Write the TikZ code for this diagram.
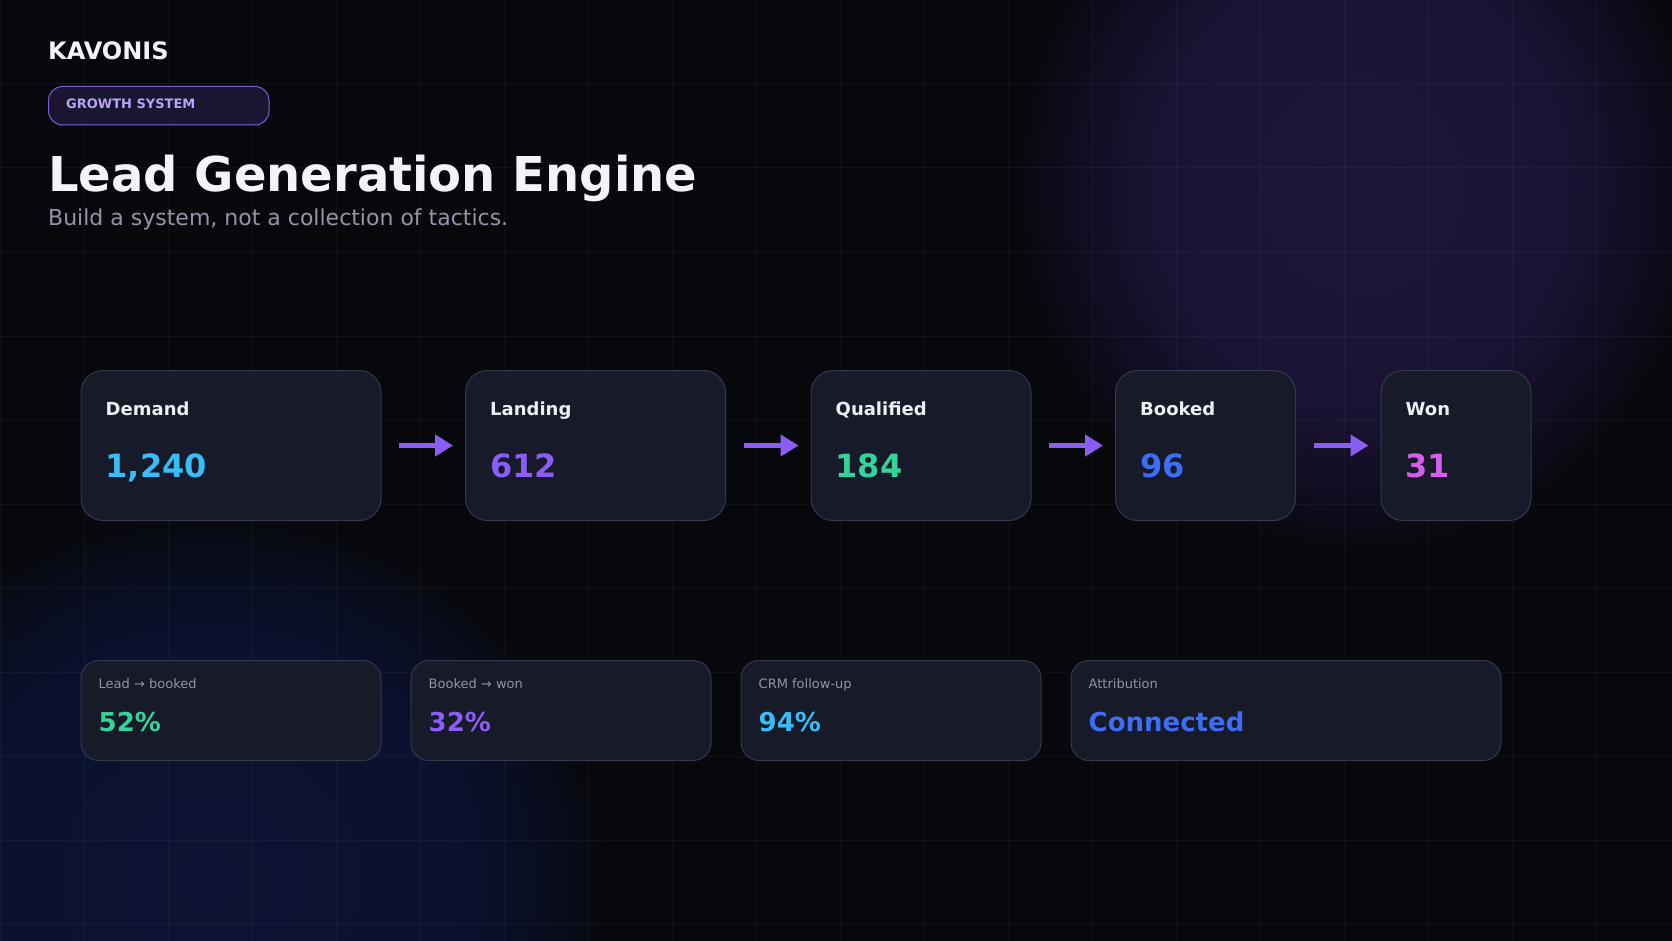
\documentclass[tikz,border=0pt]{standalone}
\usepackage{fontspec}
\setmainfont{DejaVu Sans}
\usetikzlibrary{arrows.meta}
\definecolor{bgc}{HTML}{07080C}
\definecolor{pg1}{HTML}{1D1639}
\definecolor{pg2}{HTML}{1A1333}
\definecolor{pg3}{HTML}{100C20}
\definecolor{bg1}{HTML}{0C1334}
\definecolor{bg2}{HTML}{0B1130}
\definecolor{bg3}{HTML}{090D1F}
\definecolor{boxfill}{HTML}{161A29}
\definecolor{boxline}{HTML}{33384A}
\definecolor{pillfill}{HTML}{1A1530}
\definecolor{pillline}{HTML}{7B5CE0}
\definecolor{pilltext}{HTML}{B7A4F7}
\definecolor{titlec}{HTML}{F4F4F8}
\definecolor{subc}{HTML}{9496A8}
\definecolor{labelc}{HTML}{EEF0F6}
\definecolor{mlabelc}{HTML}{8F93A6}
\definecolor{arrowc}{HTML}{8B5CF6}
\definecolor{skyc}{HTML}{38BDF8}
\definecolor{violetc}{HTML}{8B5CF6}
\definecolor{greenc}{HTML}{34D399}
\definecolor{bluec}{HTML}{3D6DF2}
\definecolor{magc}{HTML}{D65DED}
\pgfdeclareradialshading{pglow}{\pgfpoint{0bp}{0bp}}{color(0bp)=(pg1); color(15bp)=(pg2); color(21bp)=(pg3); color(25bp)=(bgc); color(50bp)=(bgc)}
\pgfdeclareradialshading{bglow}{\pgfpoint{0bp}{0bp}}{color(0bp)=(bg1); color(15bp)=(bg2); color(21bp)=(bg3); color(25bp)=(bgc); color(50bp)=(bgc)}
\begin{document}
\begin{tikzpicture}[x=1pt,y=-1pt,
  stagebox/.style={draw=boxline, fill=boxfill, rounded corners=22pt, line width=1pt, minimum height=150pt, anchor=north west, inner sep=0pt},
  metricbox/.style={draw=boxline, fill=boxfill, rounded corners=18pt, line width=1pt, minimum height=100pt, anchor=north west, inner sep=0pt},
  pillbox/.style={draw=pillline, fill=pillfill, rounded corners=14pt, line width=1pt, minimum height=38.5pt, minimum width=220.5pt, anchor=north west, inner sep=0pt},
  stagelabel/.style={anchor=base west, inner sep=0pt, text=labelc, font=\fontsize{18pt}{22pt}\selectfont\bfseries},
  stagenum/.style={anchor=base west, inner sep=0pt, font=\fontsize{32pt}{38pt}\selectfont\bfseries},
  metlabel/.style={anchor=base west, inner sep=0pt, text=mlabelc, font=\fontsize{13pt}{16pt}\selectfont},
  metval/.style={anchor=base west, inner sep=0pt, font=\fontsize{26pt}{30pt}\selectfont\bfseries},
  flow/.style={draw=arrowc, line width=4.5pt, -{Triangle[length=18pt,width=21pt]}},
  gridline/.style={draw=white, draw opacity=0.04, line width=1pt},
  plaintext/.style={anchor=base west, inner sep=0pt}
]
\useasboundingbox (0,0) rectangle (1672,941);
\begin{scope}
  \clip (0,0) rectangle (1672,941);
  \fill[bgc] (0,0) rectangle (1672,941);
  \shade[shading=pglow] (1360,185) ellipse [x radius=345, y radius=370];
  \shade[shading=bglow] (210,880) ellipse [x radius=400, y radius=370];
  \foreach \i in {0,84,...,1596} \draw[gridline] (\i,0) -- (\i,941);
  \foreach \j in {0,84,...,924} \draw[gridline] (0,\j) -- (1672,\j);
\end{scope}

% header
\node[plaintext, text=titlec, font=\fontsize{24pt}{28pt}\selectfont\bfseries] (brand) at (48,60) {KAVONIS};
\node[pillbox] (pill) at (48,86) {};
\node[plaintext, text=pilltext, font=\fontsize{13pt}{16pt}\selectfont\bfseries] (pilltxt) at (66,108.3) {GROWTH SYSTEM};
\node[plaintext, text=titlec, font=\fontsize{48pt}{54pt}\selectfont\bfseries] (title) at (48,192) {Lead Generation Engine};
\node[plaintext, text=subc, font=\fontsize{22pt}{26pt}\selectfont] (subtitle) at (48,226) {Build a system, not a collection of tactics.};

% stages
\node[stagebox, minimum width=300pt] (demand) at (80.5,370) {};
\node[stagebox, minimum width=260pt] (landing) at (465,370) {};
\node[stagebox, minimum width=220pt] (qualified) at (810.5,370) {};
\node[stagebox, minimum width=180pt] (booked) at (1115,370) {};
\node[stagebox, minimum width=150pt] (won) at (1380.5,370) {};

\node[stagelabel] (demandL) at (105.5,415) {Demand};
\node[stagenum, text=skyc] (demandN) at (105.5,477) {1,240};
\node[stagelabel] (landingL) at (490,415) {Landing};
\node[stagenum, text=violetc] (landingN) at (490,477) {612};
\node[stagelabel] (qualifiedL) at (835.5,415) {Qualified};
\node[stagenum, text=greenc] (qualifiedN) at (835.5,477) {184};
\node[stagelabel] (bookedL) at (1140,415) {Booked};
\node[stagenum, text=bluec] (bookedN) at (1140,477) {96};
\node[stagelabel] (wonL) at (1405.5,415) {Won};
\node[stagenum, text=magc] (wonN) at (1405.5,477) {31};

\draw[flow] ([xshift=17.5pt]demand.east) -- ([xshift=-12pt]landing.west);
\draw[flow] ([xshift=17.5pt]landing.east) -- ([xshift=-12pt]qualified.west);
\draw[flow] ([xshift=17.5pt]qualified.east) -- ([xshift=-12pt]booked.west);
\draw[flow] ([xshift=17.5pt]booked.east) -- ([xshift=-12pt]won.west);

% metrics
\node[metricbox, minimum width=300pt] (m1) at (80.5,660) {};
\node[metricbox, minimum width=300pt] (m2) at (410.5,660) {};
\node[metricbox, minimum width=300pt] (m3) at (740.5,660) {};
\node[metricbox, minimum width=430pt] (m4) at (1070.5,660) {};

\node[metlabel] (m1L) at (98.5,688) {Lead → booked};
\node[metval, text=greenc] (m1V) at (98.5,731) {52\%};
\node[metlabel] (m2L) at (428.5,688) {Booked → won};
\node[metval, text=violetc] (m2V) at (428.5,731) {32\%};
\node[metlabel] (m3L) at (758.5,688) {CRM follow-up};
\node[metval, text=skyc] (m3V) at (758.5,731) {94\%};
\node[metlabel] (m4L) at (1088.5,688) {Attribution};
\node[metval, text=bluec] (m4V) at (1088.5,731) {Connected};
\end{tikzpicture}
\end{document}
